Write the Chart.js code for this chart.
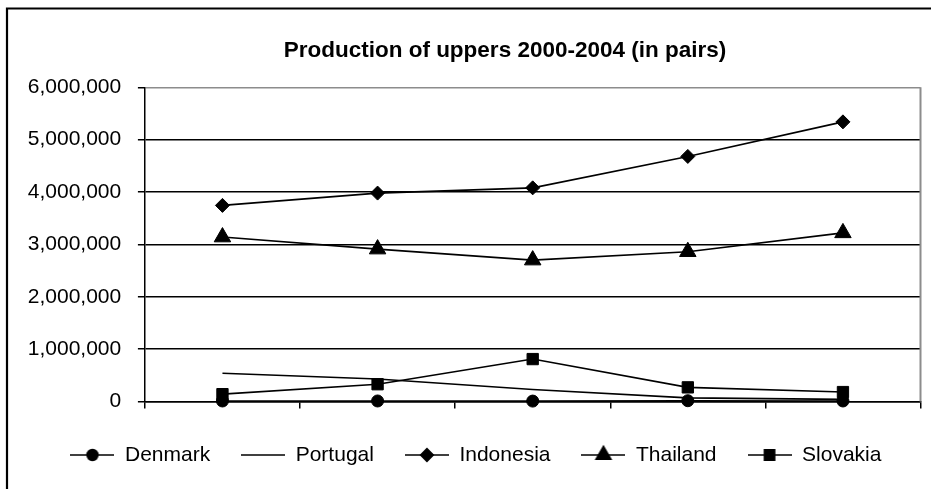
<!DOCTYPE html>
<html><head><meta charset="utf-8">
<script src="https://cdn.jsdelivr.net/npm/chart.js@4.4.1/dist/chart.umd.min.js"></script>
<style>html,body{margin:0;padding:0;background:#fff;}#wrap{width:931px;height:489px;position:relative;}</style>
</head><body><div id="wrap"><canvas id="c" width="931" height="489"></canvas></div>
<script>
const years = ['2000', '2001', '2002', '2003', '2004'];
const seriesNames = ['Denmark', 'Portugal', 'Indonesia', 'Thailand', 'Slovakia'];
const denmark = [10000, 10000, 8000, 15000, 10000];
const portugal = [540000, 430000, 230000, 70000, 40000];
const indonesia = [3745000, 3980000, 4080000, 4680000, 5340000];
const thailand = [3140000, 2910000, 2700000, 2860000, 3220000];
const slovakia = [140000, 330000, 810000, 270000, 180000];
const yMin = 0, yMax = 6000000, yStep = 1000000;

const FONT = "'Liberation Sans', Arial, sans-serif";
const styles = [
  {pointStyle: 'circle', r: 6},
  {pointStyle: false, r: 0},
  {pointStyle: 'rectRot', r: 7},
  {pointStyle: 'triangle', r: 9.5},
  {pointStyle: 'rect', r: 8}
];
const values = [denmark, portugal, indonesia, thailand, slovakia];

function fmt(v) { return String(v).replace(/\B(?=(\d{3})+(?!\d))/g, ','); }

function makeIcon(st) {
  const cv = document.createElement('canvas');
  cv.width = 44; cv.height = 24;
  const c = cv.getContext('2d');
  c.strokeStyle = '#000'; c.fillStyle = '#000'; c.lineWidth = 1.6;
  c.beginPath(); c.moveTo(0, 12); c.lineTo(44, 12); c.stroke();
  if (st.pointStyle) {
    Chart.helpers.drawPoint(c, {pointStyle: st.pointStyle, radius: st.r * 0.9, rotation: 0, borderWidth: 1}, 22, 12);
  }
  return cv;
}

const datasets = seriesNames.map((n, i) => ({
  label: n,
  data: values[i],
  borderColor: '#000',
  backgroundColor: '#000',
  borderWidth: 1.6,
  pointStyle: styles[i].pointStyle || 'circle',
  pointRadius: styles[i].r,
  pointHoverRadius: styles[i].r,
  pointBorderWidth: 1,
  pointBackgroundColor: '#000',
  pointBorderColor: '#000',
  tension: 0,
  fill: false,
  clip: false
}));

const framePlugin = {
  id: 'frame',
  beforeDraw(chart) {
    const c = chart.ctx;
    c.save(); c.fillStyle = '#fff'; c.fillRect(0, 0, chart.width, chart.height); c.restore();
  },
  afterLayout(chart) {
    const t = chart.titleBlock;
    if (t) { t.left += 58; }
  },
  afterDraw(chart) {
    const c = chart.ctx, a = chart.chartArea;
    c.save();
    c.strokeStyle = '#000'; c.lineWidth = 2.2;
    c.beginPath(); c.moveTo(7, chart.height + 5); c.lineTo(7, 8.5); c.lineTo(chart.width + 5, 8.5); c.stroke();
    c.strokeStyle = '#8c8c8c'; c.lineWidth = 2;
    c.beginPath(); c.moveTo(a.right, a.top); c.lineTo(a.right, a.bottom); c.stroke();
    c.restore();
  }
};

new Chart(document.getElementById('c'), {
  type: 'line',
  data: { labels: years, datasets },
  plugins: [framePlugin],
  options: {
    responsive: false,
    animation: false,
    devicePixelRatio: 1,
    layout: { padding: { left: 27.9, right: 7, top: 0, bottom: 13.5 } },
    plugins: {
      tooltip: { enabled: false },
      title: {
        display: true,
        text: 'Production of uppers 2000-2004 (in pairs)',
        color: '#000',
        font: { family: FONT, size: 22.5, weight: 'bold' },
        padding: { top: 37.5, bottom: 22.8 }
      },
      legend: {
        position: 'bottom',
        labels: {
          usePointStyle: true,
          pointStyleWidth: 44,
          padding: 31,
          color: '#000',
          font: { family: FONT, size: 21 },
          generateLabels(chart) {
            return chart.data.datasets.map((d, i) => ({
              text: d.label,
              pointStyle: makeIcon(styles[i]),
              fillStyle: '#000',
              strokeStyle: '#000',
              lineWidth: 0,
              hidden: false,
              datasetIndex: i,
              fontColor: '#000'
            }));
          }
        }
      }
    },
    scales: {
      x: {
        offset: true,
        grid: { offset: true, drawOnChartArea: false, drawTicks: true, tickLength: 7, color: '#000', lineWidth: 1.5 },
        border: { display: true, color: '#000', width: 1.5 },
        ticks: { display: false },
        afterFit(s) { s.height = 12; }
      },
      y: {
        min: yMin, max: yMax,
        ticks: { stepSize: yStep, color: '#000', padding: 16.7, font: { family: FONT, size: 21 }, callback: v => fmt(v) },
        grid: {
          color: ctx => (ctx.tick && ctx.tick.value === yMax) ? '#8c8c8c' : '#000',
          tickColor: '#000', lineWidth: 1.5, tickLength: 7
        },
        border: { color: '#000', width: 1.5 },
        afterFit(s) { s.width = 117; }
      }
    }
  }
});
</script></body></html>
